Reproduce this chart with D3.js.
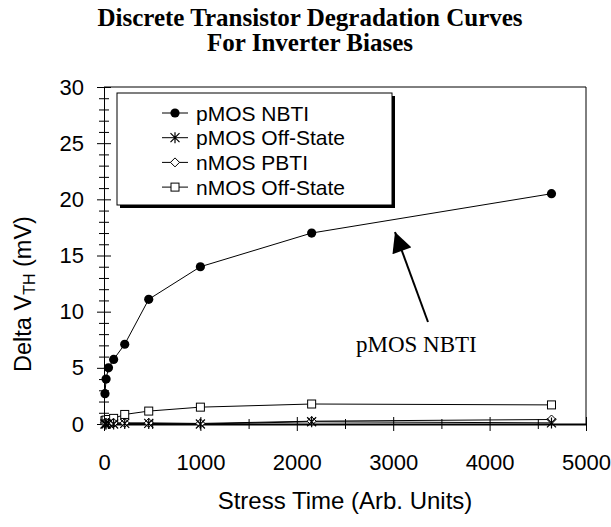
<!DOCTYPE html>
<html>
<head>
<meta charset="utf-8">
<script src="https://cdn.jsdelivr.net/npm/d3@7"></script>
<style>
  html, body { margin: 0; padding: 0; background: #fff; }
  svg { display: block; }
  text { fill: #000; }
</style>
</head>
<body>
<svg id="chart" width="611" height="527"></svg>
<script>
// Stress times (arb. units) at which each device was measured
const stressTimes = [10, 21.5, 46.4, 100, 215, 464, 1000, 2154, 4642];

// Threshold-voltage shift (mV) per bias condition
const pmosNbti    = [2.7, 4.0, 5.0, 5.75, 7.1, 11.1, 14.0, 17.0, 20.5];
const pmosOff     = [0.0, 0.0, 0.05, 0.0, 0.05, 0.05, 0.0, 0.2, 0.1];
const nmosPbti    = [0.1, 0.1, 0.1, 0.1, 0.1, 0.1, 0.05, 0.25, 0.4];
const nmosOff     = [0.3, 0.35, 0.4, 0.5, 0.85, 1.15, 1.5, 1.78, 1.7];

const seriesNames = ["pMOS NBTI", "pMOS Off-State", "nMOS PBTI", "nMOS Off-State"];
const seriesMarkers = ["circle", "asterisk", "diamond", "square"];
const seriesValues = [pmosNbti, pmosOff, nmosPbti, nmosOff];

const xTicksMajor = [0, 1000, 2000, 3000, 4000, 5000];
const xTicksMinor = [500, 1500, 2500, 3500, 4500];
const yTicksMajor = [0, 5, 10, 15, 20, 25, 30];
const yTicksMinor = d3.range(0, 31).filter(v => v % 5 !== 0);

const titleLines = ["Discrete Transistor Degradation Curves", "For Inverter Biases"];
const annotationText = "pMOS NBTI";

const svg = d3.select("#chart");
const x = d3.scaleLinear().domain([0, 5000]).range([104, 586]);
const y = d3.scaleLinear().domain([0, 30]).range([424, 87]);

const sans = "'Liberation Sans', Arial, sans-serif";
const serif = "'Liberation Serif', 'Times New Roman', serif";

// Two-line title as one text block
svg.append("text")
  .attr("text-anchor", "middle")
  .attr("font-family", serif).attr("font-weight", "bold").attr("font-size", 25)
  .selectAll("tspan").data(titleLines).join("tspan")
  .attr("x", 310).attr("y", (d, i) => 26 + i * 24.5)
  .text(d => d);

// Plot frame (top and right edges)
svg.append("path")
  .attr("d", `M${x(0)},${y(30)}H${x(5000)}V${y(0)}`)
  .attr("fill", "none").attr("stroke", "#000").attr("stroke-width", 1);

// Y axis with ticks crossing the axis line
svg.append("g").attr("transform", `translate(${x(0)},0)`)
  .call(d3.axisLeft(y).tickValues(yTicksMajor).tickSize(7).tickPadding(13).tickSizeOuter(0))
  .call(g => g.selectAll(".tick line").attr("x1", 7))
  .call(g => g.selectAll("text").attr("font-family", sans).attr("font-size", 22).attr("fill", "#000"))
  .call(g => g.select(".domain").attr("stroke", "#000"));
svg.append("g").attr("transform", `translate(${x(0)},0)`)
  .call(d3.axisLeft(y).tickValues(yTicksMinor).tickSize(5).tickFormat("").tickSizeOuter(0))
  .call(g => g.select(".domain").remove())
  .call(g => g.selectAll(".tick line").attr("x1", 5));

// X axis with ticks crossing the axis line
svg.append("g").attr("transform", `translate(0,${y(0)})`)
  .call(d3.axisBottom(x).tickValues(xTicksMajor).tickFormat(d3.format("d"))
    .tickSize(7).tickPadding(23).tickSizeOuter(0))
  .call(g => g.selectAll(".tick line").attr("y1", -7))
  .call(g => g.selectAll("text").attr("font-family", sans).attr("font-size", 22).attr("fill", "#000"))
  .call(g => g.select(".domain").attr("stroke", "#000").attr("stroke-width", 2));
svg.append("g").attr("transform", `translate(0,${y(0)})`)
  .call(d3.axisBottom(x).tickValues(xTicksMinor).tickSize(5).tickFormat("").tickSizeOuter(0))
  .call(g => g.select(".domain").remove())
  .call(g => g.selectAll(".tick line").attr("y1", -5));

// Axis titles
svg.append("text")
  .attr("x", 345).attr("y", 509)
  .attr("text-anchor", "middle").attr("font-family", sans).attr("font-size", 24)
  .text("Stress Time (Arb. Units)");

const yTitle = svg.append("text")
  .attr("transform", "translate(31,294) rotate(-90)")
  .attr("text-anchor", "middle").attr("font-family", sans).attr("font-size", 23.5);
yTitle.append("tspan").text("Delta V");
yTitle.append("tspan").attr("font-size", 16).attr("dy", 4).text("TH");
yTitle.append("tspan").attr("dy", -4).text(" (mV)");

// Marker drawing
function drawMarker(g, type, cx, cy) {
  if (type === "circle") {
    g.append("circle").attr("cx", cx).attr("cy", cy).attr("r", 4.6).attr("fill", "#000");
  } else if (type === "square") {
    g.append("rect").attr("x", cx - 4).attr("y", cy - 4).attr("width", 8).attr("height", 8)
      .attr("fill", "#fff").attr("stroke", "#000").attr("stroke-width", 1);
  } else if (type === "diamond") {
    g.append("path").attr("d", `M${cx},${cy - 4.5}L${cx + 4.5},${cy}L${cx},${cy + 4.5}L${cx - 4.5},${cy}Z`)
      .attr("fill", "#fff").attr("stroke", "#000").attr("stroke-width", 1);
  } else if (type === "asterisk") {
    const r = 4.5;
    g.append("path")
      .attr("d", `M${cx - r},${cy - r}L${cx + r},${cy + r}M${cx - r},${cy + r}L${cx + r},${cy - r}M${cx},${cy - r - 1}V${cy + r + 1}`)
      .attr("stroke", "#000").attr("stroke-width", 1.2).attr("fill", "none");
  }
}

// Series: draw lines first, markers on top
const line = d3.line().x(d => x(d[0])).y(d => y(d[1]));
const seriesOrder = [3, 2, 1, 0];
seriesOrder.forEach(i => {
  const pts = stressTimes.map((t, k) => [t, seriesValues[i][k]]);
  svg.append("path").datum(pts).attr("d", line)
    .attr("fill", "none").attr("stroke", "#000").attr("stroke-width", 1);
});
seriesOrder.forEach(i => {
  const g = svg.append("g");
  stressTimes.forEach((t, k) => drawMarker(g, seriesMarkers[i], x(t), y(seriesValues[i][k])));
});

// Legend with drop shadow
const legend = svg.append("g");
legend.append("rect").attr("x", 120).attr("y", 96).attr("width", 275).attr("height", 112).attr("fill", "#000");
legend.append("rect").attr("x", 117).attr("y", 93).attr("width", 275).attr("height", 112)
  .attr("fill", "#fff").attr("stroke", "#000").attr("stroke-width", 1);
seriesNames.forEach((name, i) => {
  const cy = 113 + i * 24.7;
  legend.append("line").attr("x1", 162).attr("x2", 188).attr("y1", cy).attr("y2", cy)
    .attr("stroke", "#000").attr("stroke-width", 1);
  drawMarker(legend, seriesMarkers[i], 175, cy);
  legend.append("text").attr("x", 196).attr("y", cy).attr("dy", "0.36em")
    .attr("font-family", sans).attr("font-size", 21).text(name);
});

// Annotation arrow pointing at the NBTI curve
const defs = svg.append("defs");
defs.append("marker")
  .attr("id", "arrowHead").attr("viewBox", "0 0 10 10").attr("refX", 10).attr("refY", 5)
  .attr("markerWidth", 22).attr("markerHeight", 20).attr("markerUnits", "userSpaceOnUse")
  .attr("orient", "auto")
  .append("path").attr("d", "M0,0L10,5L0,10Z").attr("fill", "#000");
svg.append("line")
  .attr("x1", 428).attr("y1", 322).attr("x2", 395).attr("y2", 232)
  .attr("stroke", "#000").attr("stroke-width", 2)
  .attr("marker-end", "url(#arrowHead)");
svg.append("text").attr("x", 356).attr("y", 352)
  .attr("font-family", serif).attr("font-size", 23).text(annotationText);
</script>
</body>
</html>
